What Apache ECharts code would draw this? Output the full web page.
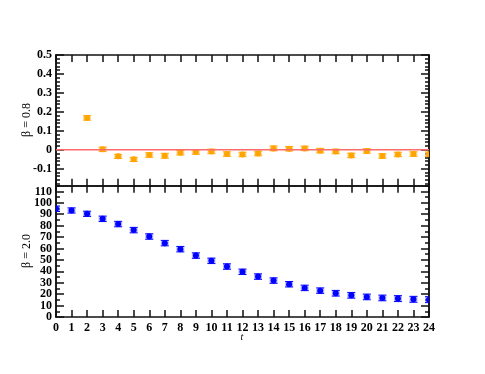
<!DOCTYPE html>
<html>
<head>
<meta charset="utf-8">
<script src="https://cdn.jsdelivr.net/npm/echarts@6/dist/echarts.min.js"></script>
<style>
  html, body { margin: 0; padding: 0; background: #fff; }
  #chart { width: 485px; height: 374px; }
</style>
</head>
<body>
<div id="chart"></div>
<script>
// beta = 0.8 panel (t = 2..24)
var topT = [2, 3, 4, 5, 6, 7, 8, 9, 10, 11, 12, 13, 14, 15, 16, 17, 18, 19, 20, 21, 22, 23, 24];
var topMean = [0.168, 0.002, -0.035, -0.051, -0.028, -0.032, -0.016, -0.012, -0.009, -0.023, -0.025, -0.020,
	0.007, 0.005, 0.007, -0.005, -0.009, -0.030, -0.007, -0.033, -0.025, -0.023, -0.024];
var topErr = [0.012, 0.012, 0.011, 0.011, 0.012, 0.013, 0.012, 0.012, 0.012, 0.012, 0.012, 0.012,
	0.013, 0.012, 0.012, 0.012, 0.012, 0.012, 0.012, 0.012, 0.012, 0.012, 0.012];

// beta = 2.0 panel (t = 0..24)
var botT = [0, 1, 2, 3, 4, 5, 6, 7, 8, 9, 10, 11, 12, 13, 14, 15, 16, 17, 18, 19, 20, 21, 22, 23, 24];
var botMean = [94.8, 93.3, 90.4, 86.0, 81.4, 76.1, 70.5, 64.7, 59.4, 53.8, 49.2, 44.2, 39.6,
	35.4, 31.9, 28.7, 25.5, 23.1, 20.8, 19.0, 17.6, 16.7, 16.1, 15.5, 15.2];
var botErr = [2.4, 2.3, 2.3, 2.4, 2.4, 2.4, 2.4, 2.4, 2.4, 2.4, 2.4, 2.4, 2.4,
	2.4, 2.4, 2.4, 2.4, 2.4, 2.5, 2.5, 2.5, 2.5, 2.6, 2.6, 2.6];

// tick values; labels are split in two sets so tightly packed ones are not dropped
var topMajor = [-0.1, 0, 0.1, 0.2, 0.3, 0.4, 0.5];
var topLabelsA = [-0.1, 0.1, 0.3, 0.5];
var topLabelsB = [0, 0.2, 0.4];
var topMinor = [-0.18, -0.16, -0.14, -0.12, -0.08, -0.06, -0.04, -0.02, 0.02, 0.04, 0.06, 0.08,
	0.12, 0.14, 0.16, 0.18, 0.22, 0.24, 0.26, 0.28, 0.32, 0.34, 0.36, 0.38, 0.42, 0.44, 0.46, 0.48];
var botMajor = [0, 10, 20, 30, 40, 50, 60, 70, 80, 90, 100, 110];
var botLabelsA = [0, 20, 40, 60, 80, 100];
var botLabelsB = [10, 30, 50, 70, 90, 110];
var botMinor = [5, 15, 25, 35, 45, 55, 65, 75, 85, 95, 105, 115];

var serif = '"Liberation Serif", "DejaVu Serif", serif';
var axisColor = '#111';

function zip(xs, ys, es) {
	var out = [];
	for (var i = 0; i < xs.length; i++) {
		out.push([xs[i], ys[i], es[i]]);
	}
	return out;
}

function errRender(color, band) {
	return function(params, api) {
		var x = api.value(0), y = api.value(1), e = api.value(2);
		var c = api.coord([x, y]);
		var hi = api.coord([x, y + e]);
		var lo = api.coord([x, y - e]);
		var hw = 4;
		return {
			type: 'group',
			children: [
				{ type: 'rect', shape: { x: c[0] - hw, y: hi[1], width: hw * 2, height: lo[1] - hi[1] }, style: { fill: band } },
				{ type: 'line', shape: { x1: c[0] - hw, y1: hi[1], x2: c[0] + hw, y2: hi[1] }, style: { stroke: color, lineWidth: 1 } },
				{ type: 'line', shape: { x1: c[0] - hw, y1: lo[1], x2: c[0] + hw, y2: lo[1] }, style: { stroke: color, lineWidth: 1 } },
				{ type: 'line', shape: { x1: c[0], y1: hi[1], x2: c[0], y2: lo[1] }, style: { stroke: color, lineWidth: 1 } },
				{ type: 'circle', shape: { cx: c[0], cy: c[1], r: 3 }, style: { fill: color } }
			]
		};
	};
}

function xAx(grid, pos, labels) {
	return {
		type: 'value', gridIndex: grid, position: pos, min: 0, max: 24, interval: 1,
		axisLine: { show: true, onZero: false, lineStyle: { color: axisColor, width: 1.5 } },
		axisTick: { show: true, inside: true, length: 7, lineStyle: { color: axisColor, width: 1.5 } },
		axisLabel: {
			show: labels, margin: 5, color: '#000', fontFamily: serif, fontWeight: 'bold', fontSize: 12,
			showMinLabel: true, showMaxLabel: true, hideOverlap: false
		},
		splitLine: { show: false }
	};
}

function yAx(grid, pos, min, max, ticks, len, labels) {
	return {
		type: 'value', gridIndex: grid, position: pos, min: min, max: max,
		axisLine: { show: true, onZero: false, lineStyle: { color: axisColor, width: 1.5 } },
		axisTick: { show: len > 0, inside: true, length: len, customValues: ticks, lineStyle: { color: axisColor, width: 1.5 } },
		axisLabel: {
			show: !!labels, customValues: labels || ticks, margin: 4, color: '#000',
			fontFamily: serif, fontWeight: 'bold', fontSize: 12,
			showMinLabel: true, showMaxLabel: true, hideOverlap: false,
			formatter: function(v) { return String(+(+v).toFixed(1)); }
		},
		splitLine: { show: false }
	};
}

var topMin = -0.19, topMax = 0.5;
var botMin = 0, botMax = 115;

function nameText(text, x, y, rotate, italic, size) {
	return {
		type: 'text', x: x, y: y, rotation: rotate ? Math.PI / 2 : 0,
		style: {
			text: text, fill: '#000', font: (italic ? 'italic ' : '') + size + 'px ' + serif,
			align: 'center', verticalAlign: 'middle'
		}
	};
}

var option = {
	animation: false,
	backgroundColor: '#fff',
	grid: [
		{ left: 56, right: 56, top: 55, height: 130.7 },
		{ left: 56, right: 56, top: 185.7, height: 131.3 }
	],
	xAxis: [
		xAx(0, 'bottom', false),
		xAx(0, 'top', false),
		xAx(1, 'bottom', true),
		xAx(1, 'top', false)
	],
	yAxis: [
		yAx(0, 'left', topMin, topMax, topMajor, 8, topLabelsA),
		yAx(0, 'left', topMin, topMax, topMinor, 4, topLabelsB),
		yAx(0, 'right', topMin, topMax, topMajor, 8),
		yAx(0, 'right', topMin, topMax, topMinor, 4),
		yAx(1, 'left', botMin, botMax, botMajor, 8, botLabelsA),
		yAx(1, 'left', botMin, botMax, botMinor, 4, botLabelsB),
		yAx(1, 'right', botMin, botMax, botMajor, 8),
		yAx(1, 'right', botMin, botMax, botMinor, 4)
	],
	graphic: [
		nameText('\u03b2 = 0.8', 27, 120, true, false, 12),
		nameText('\u03b2 = 2.0', 27, 251, true, false, 12),
		nameText('t', 242, 337, false, true, 10)
	],
	series: [
		{
			type: 'line', xAxisIndex: 0, yAxisIndex: 0, silent: true,
			data: [[0, 0], [24, 0]], symbol: 'none',
			lineStyle: { color: '#ff6b6b', width: 1.5 }
		},
		{
			type: 'custom', xAxisIndex: 0, yAxisIndex: 0, clip: true,
			data: zip(topT, topMean, topErr),
			encode: { x: 0, y: 1 },
			renderItem: errRender('#ffa500', 'rgba(255,200,110,0.55)')
		},
		{
			type: 'custom', xAxisIndex: 2, yAxisIndex: 4, clip: true,
			data: zip(botT, botMean, botErr),
			encode: { x: 0, y: 1 },
			renderItem: errRender('#0000ff', 'rgba(120,120,255,0.5)')
		}
	]
};

var myChart = echarts.init(document.getElementById('chart'), null, { renderer: 'canvas' });
myChart.setOption(option);
</script>
</body>
</html>
